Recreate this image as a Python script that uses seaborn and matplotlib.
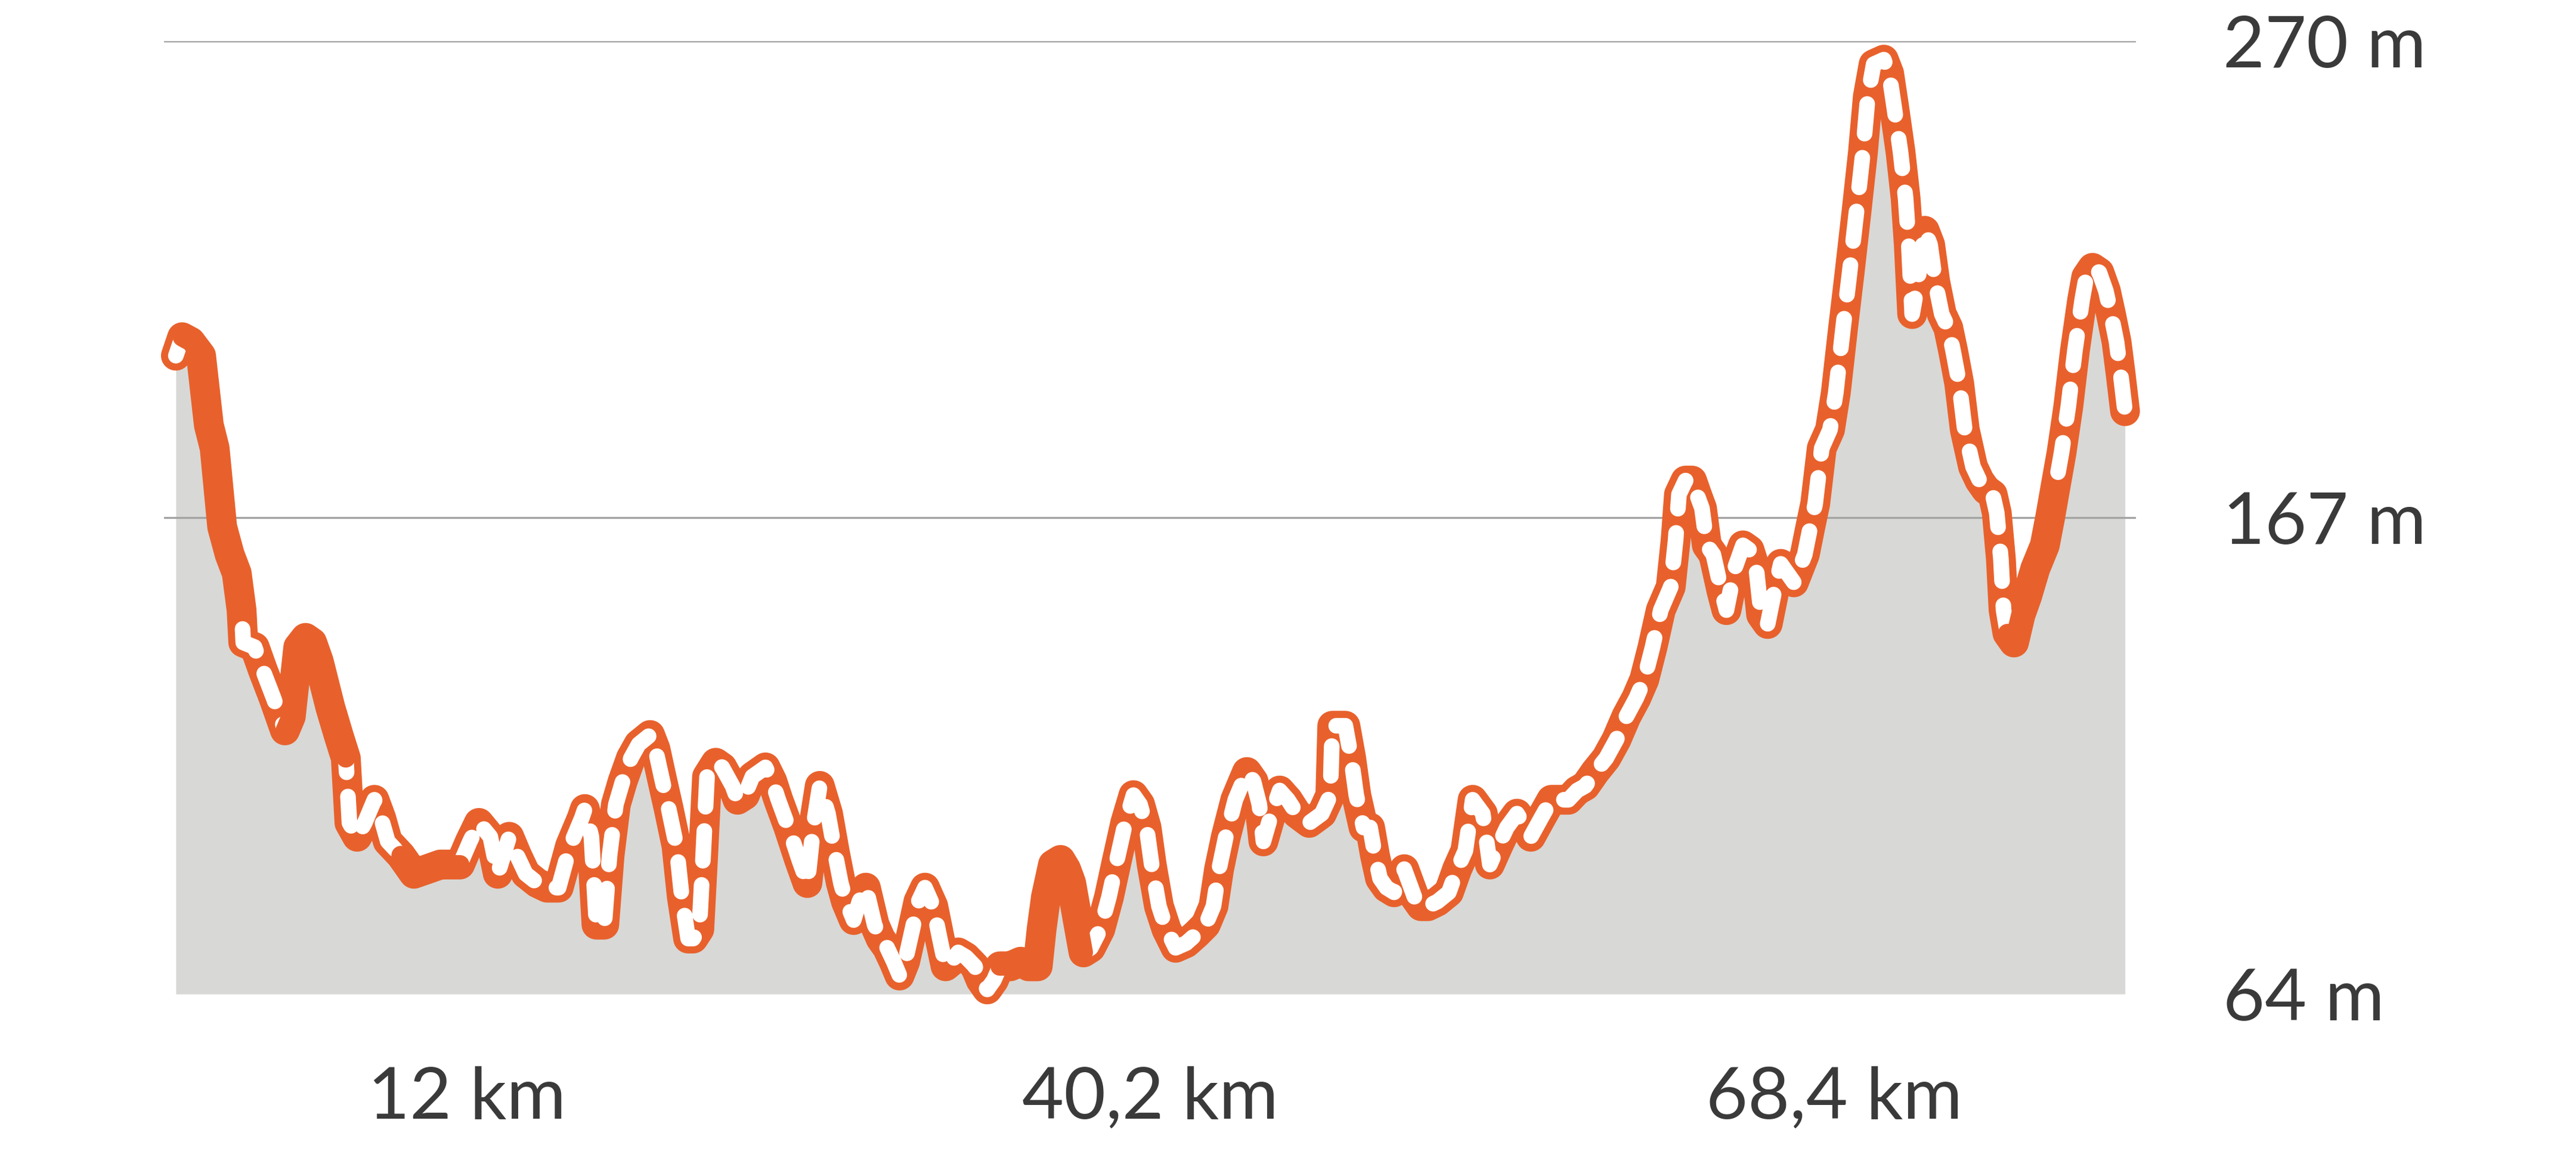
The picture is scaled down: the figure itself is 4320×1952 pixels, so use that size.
import numpy as np
import pandas as pd
import matplotlib
matplotlib.use("Agg")
import matplotlib.pyplot as plt
import seaborn as sns

# ---- data: elevation profile (distance in km, elevation in m) ----
DIST_KM = [0, 0.26, 0.61, 1.04, 1.36, 1.60, 1.91, 2.22, 2.51, 2.71,
           2.78, 3.25, 3.59, 4.03, 4.50, 4.74, 5.05, 5.35, 5.62, 5.89,
           6.37, 6.71, 7.01, 7.16, 7.48, 7.79, 8.19, 8.47, 8.74, 9.28,
           9.82, 10.37, 10.91, 11.72, 12.13, 12.50, 12.97, 13.28, 13.75, 14.07,
           14.43, 14.91, 15.31, 15.79, 16.26, 16.74, 16.87, 17.14, 17.35, 17.67,
           17.89, 18.15, 18.43, 18.77, 19.09, 19.56, 19.78, 20.03, 20.33, 20.65,
           20.87, 21.13, 21.34, 21.59, 21.75, 21.91, 22.27, 22.54, 22.96, 23.17,
           23.47, 23.78, 24.32, 24.60, 24.85, 25.27, 25.71, 26.05, 26.29, 26.56,
           26.90, 27.17, 27.43, 27.64, 27.96, 28.19, 28.46, 28.82, 29.07, 29.34,
           29.61, 29.85, 30.08, 30.38, 30.63, 30.90, 31.24, 31.51, 31.75, 31.98,
           32.27, 32.59, 32.96, 33.20, 33.47, 33.74, 33.99, 34.42, 34.85, 35.17,
           35.55, 35.71, 35.89, 36.18, 36.49, 36.72, 36.93, 37.20, 37.44, 37.74,
           38.13, 38.49, 38.82, 39.16, 39.50, 39.77, 40.04, 40.25, 40.55, 40.86,
           41.24, 41.67, 42.10, 42.48, 42.80, 43.03, 43.31, 43.70, 44.18, 44.45,
           44.69, 44.86, 45.19, 45.53, 45.87, 46.24, 46.75, 47.27, 47.62, 47.70,
           47.97, 48.24, 48.48, 48.69, 48.99, 49.26, 49.46, 49.67, 49.94, 50.25,
           50.67, 51.09, 51.36, 51.65, 52.04, 52.51, 52.85, 53.19, 53.49, 53.91,
           54.20, 54.54, 54.90, 55.32, 55.56, 55.89, 56.31, 56.74, 57.12, 57.44,
           57.80, 58.14, 58.54, 59.00, 59.42, 59.83, 60.24, 60.57, 60.91, 61.25,
           61.66, 61.86, 62.00, 62.27, 62.54, 62.74, 62.95, 63.15, 63.42, 63.76,
           63.96, 64.30, 64.64, 64.91, 65.21, 65.39, 65.66, 65.93, 66.20, 66.74,
           67.19, 67.42, 67.62, 67.89, 68.23, 68.47, 68.77, 69.04, 69.32, 69.59,
           69.79, 70.03, 70.45, 70.67, 70.87, 71.14, 71.35, 71.48, 71.62, 71.82,
           72.14, 72.36, 72.57, 72.84, 73.11, 73.31, 73.56, 73.79, 74.13, 74.40,
           74.67, 74.94, 75.11, 75.28, 75.39, 75.55, 75.82, 76.09, 76.36, 76.70,
           77.09, 77.31, 77.51, 77.78, 78.06, 78.33, 78.63, 78.80, 79.06, 79.34,
           79.61, 79.82, 80.05, 80.22, 80.40]

ELEV_M = [202, 206, 205, 202, 187, 182, 165, 159, 155, 147,
          140, 139, 134, 128, 121, 124, 139, 141, 140, 136,
          126, 120, 115, 101, 98, 101, 106, 102, 97, 94,
          90, 91, 92, 92, 97, 101, 98, 90, 98, 94,
          90, 88, 87, 87, 96, 102, 104, 98, 79, 79,
          94, 105, 110, 115, 118, 120, 117, 111, 104, 96,
          85, 76, 76, 78, 94, 111, 114, 113, 109, 106,
          107, 111, 113, 110, 106, 100, 93, 88, 100, 109,
          103, 95, 88, 84, 80, 84, 87, 79, 76, 74,
          71, 68, 71, 78, 84, 87, 83, 76, 70, 71,
          73, 72, 70, 67, 65, 67, 70, 70, 71, 70,
          70, 78, 85, 92, 93, 91, 88, 80, 73, 74,
          78, 85, 93, 101, 107, 105, 100, 92, 83, 78,
          74, 75, 77, 79, 83, 91, 98, 106, 112, 110,
          105, 97, 103, 108, 106, 103, 101, 103, 107, 122,
          122, 122, 115, 107, 100, 100, 94, 89, 87, 86,
          91, 85, 83, 83, 84, 86, 91, 95, 106, 103,
          92, 96, 100, 103, 101, 98, 102, 106, 106, 106,
          108, 109, 112, 115, 119, 124, 128, 132, 139, 147,
          152, 162, 172, 175, 175, 172, 169, 161, 159, 151,
          147, 156, 161, 160, 155, 146, 144, 151, 157, 153,
          159, 165, 170, 182, 186, 194, 208, 220, 233, 246,
          258, 265, 266, 263, 256, 246, 236, 226, 211, 217,
          229, 226, 218, 211, 208, 203, 196, 186, 178, 175,
          173, 172, 168, 158, 147, 142, 140, 146, 150, 156,
          161, 167, 173, 181, 191, 203, 214, 219, 221, 220,
          216, 211, 205, 198, 190]

# stretches drawn as solid orange (paved); the rest gets white dashes
PAVED_KM = [(0.26, 2.71), (4.5, 7.01), (9.1, 11.75), (33.9, 37.5), (75.5, 77.55)]

Y_TICKS = [64, 167, 270]
Y_LABELS = ["64 m", "167 m", "270 m"]
X_TICKS = [12, 40.2, 68.4]
X_LABELS = ["12 km", "40,2 km", "68,4 km"]

ORANGE = "#e8612c"
FILL = "#d8d8d6"
GRID = "#a3a3a3"
TEXT = "#3a3a3a"

sns.set_theme(style="white")
plt.rcParams["font.family"] = ["Lato", "DejaVu Sans"]

df = pd.DataFrame({"km": DIST_KM, "elev": ELEV_M})
base = min(Y_TICKS)

fig = plt.figure(figsize=(14.4, 6.5067), dpi=300)
fig.patch.set_facecolor("white")
ax = fig.add_axes([0.06366, 0.14600, 0.76551, 0.81865])
ax.set_facecolor("white")
ax.set_xlim(-0.49, 80.85)
ax.set_ylim(base, max(Y_TICKS))

ax.fill_between(df["km"], df["elev"], base, color=FILL, lw=0, zorder=1)
for yv in Y_TICKS[1:]:
    ax.axhline(yv, color=GRID, lw=0.8, zorder=2)

n0 = len(ax.lines)
sns.lineplot(data=df, x="km", y="elev", ax=ax, color=ORANGE, linewidth=12.0,
             estimator=None, sort=False, zorder=3)
sns.lineplot(data=df, x="km", y="elev", ax=ax, color="white", linewidth=6.3,
             estimator=None, sort=False, zorder=4)
white_line = ax.lines[-1]
for a, b in PAVED_KM:
    seg = df[(df["km"] >= a) & (df["km"] <= b)]
    sns.lineplot(data=seg, x="km", y="elev", ax=ax, color=ORANGE, linewidth=7.6,
                 estimator=None, sort=False, zorder=5)

for ln in ax.lines[n0:]:
    ln.set_solid_capstyle("round")
    ln.set_solid_joinstyle("round")
    ln.set_dash_joinstyle("round")
    ln.set_dash_capstyle("round")
    ln.set_clip_on(False)
white_line.set_dashes((1.9, 1.55))

ax.set_xlabel("")
ax.set_ylabel("")
ax.set_xticks(X_TICKS)
ax.set_xticklabels(X_LABELS)
ax.yaxis.tick_right()
ax.set_yticks(Y_TICKS)
ax.set_yticklabels(Y_LABELS)
ax.tick_params(axis="x", length=0, pad=29, labelsize=29, labelcolor=TEXT)
ax.tick_params(axis="y", length=0, pad=35, labelsize=29, labelcolor=TEXT)
ax.grid(False)
for s in ax.spines.values():
    s.set_visible(False)

fig.savefig("out.png", dpi=300, facecolor="white")
